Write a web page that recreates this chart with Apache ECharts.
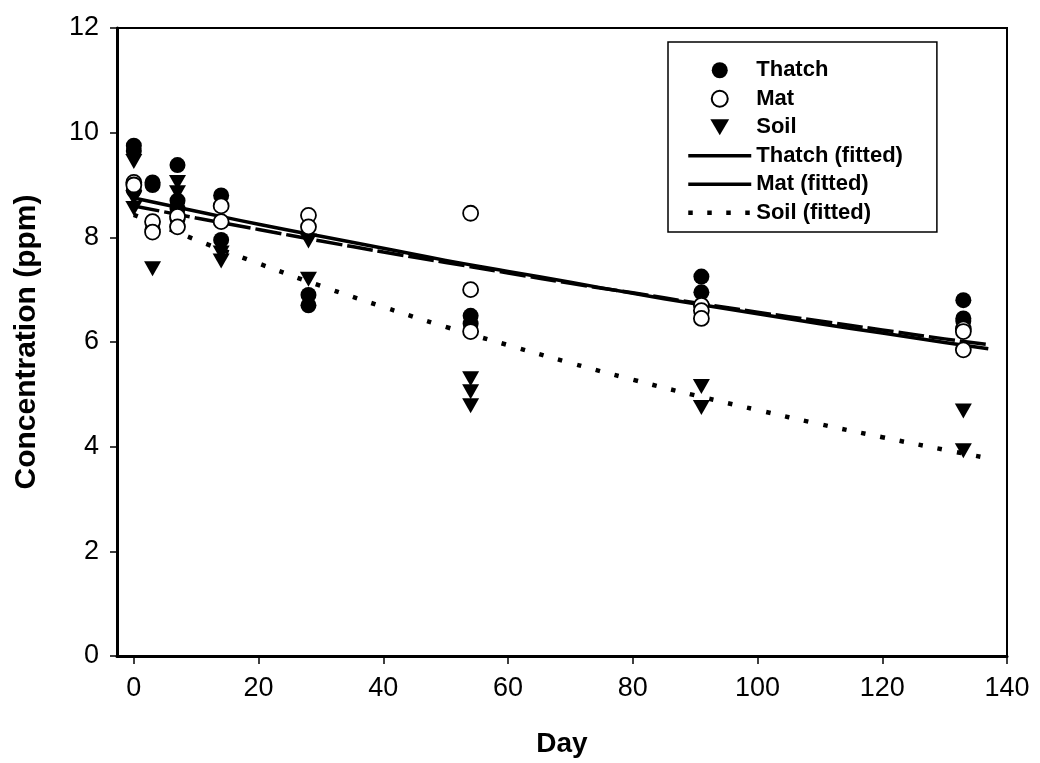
<!DOCTYPE html>
<html>
<head>
<meta charset="utf-8">
<script src="https://cdn.jsdelivr.net/npm/echarts@6/dist/echarts.min.js"></script>
<style>
  html, body { margin: 0; background: #fff; }
  #chart { width: 1040px; height: 763px; }
</style>
</head>
<body>
<div id="chart"></div>
<script>
/* ─── data ─── */
const xTicks = [0, 20, 40, 60, 80, 100, 120, 140];

// [day, ppm]
const thatchPts = [
  [0, 9.75], [0, 9.65], [0, 8.9],
  [3, 9.05], [3, 9.0], [3, 8.15],
  [7, 9.38], [7, 8.7], [7, 8.55], [7, 8.35],
  [14, 8.8], [14, 7.95],
  [28, 6.9], [28, 6.7],
  [54, 6.5], [54, 6.35],
  [91, 7.25], [91, 6.95], [91, 6.7],
  [133, 6.8], [133, 6.45], [133, 6.4],
];
const matPts = [
  [0, 9.05], [0, 9.0],
  [3, 8.3], [3, 8.1],
  [7, 8.4], [7, 8.2],
  [14, 8.6], [14, 8.3],
  [28, 8.42], [28, 8.2],
  [54, 8.46], [54, 7.0], [54, 6.2],
  [91, 6.7], [91, 6.6], [91, 6.45],
  [133, 6.25], [133, 6.2], [133, 5.85],
];
const soilPts = [
  [0, 9.45], [0, 8.75], [0, 8.55],
  [3, 7.4],
  [7, 9.05], [7, 8.85],
  [14, 7.7], [14, 7.55],
  [28, 7.93], [28, 7.2],
  [54, 5.3], [54, 5.05], [54, 4.78],
  [91, 5.15], [91, 4.75],
  [133, 4.68], [133, 3.92],
];

// fitted curves, read at these days
const fitDays   = [0, 10, 20, 30, 40, 50, 60, 70, 80, 90, 100, 110, 120, 130, 137];
const thatchFit = [8.60, 8.37, 8.15, 7.93, 7.72, 7.52, 7.32, 7.12, 6.94, 6.75, 6.57, 6.40, 6.23, 6.06, 5.95];
const matFit    = [8.75, 8.50, 8.25, 8.02, 7.79, 7.56, 7.35, 7.14, 6.93, 6.73, 6.54, 6.35, 6.17, 5.99, 5.87];
const soilFit   = [8.43, 7.95, 7.50, 7.07, 6.67, 6.29, 5.94, 5.60, 5.28, 4.98, 4.70, 4.43, 4.18, 3.94, 3.78];

/* ─── chart ─── */
const FONT = "'Liberation Sans', Arial, sans-serif";
const DOWN_TRI = "path://M0,0L20,0L10,17Z";
const pair = (ys) => fitDays.map((d, i) => [d, ys[i]]);
const HIDE_DOT = { opacity: 0 }; // line legend icons: no symbol in the middle

const chart = echarts.init(document.getElementById("chart"), null, { renderer: "canvas" });

chart.setOption({
  animation: false,
  backgroundColor: "#fff",
  textStyle: { fontFamily: FONT, color: "#000" },
  grid: {
    left: 117, right: 33, top: 28, bottom: 105,
    show: true, borderColor: "#000", borderWidth: 2,
  },
  legend: {
    orient: "vertical",
    left: 668, top: 42,
    padding: [17, 34, 8, 18],
    borderColor: "#000", borderWidth: 1.5,
    backgroundColor: "#fff",
    itemWidth: 63, itemHeight: 16, itemGap: 6,
    textStyle: { fontFamily: FONT, fontWeight: "bold", fontSize: 22, color: "#000", lineHeight: 22.5 },
    data: [
      "Thatch", "Mat", "Soil",
      { name: "Thatch (fitted)", itemStyle: HIDE_DOT, lineStyle: { width: 3.5, type: "solid" } },
      { name: "Mat (fitted)", itemStyle: HIDE_DOT, lineStyle: { width: 3.5 } },
      { name: "Soil (fitted)", itemStyle: HIDE_DOT, lineStyle: { width: 4.5, type: [4.5, 14.5] } },
    ],
  },
  xAxis: {
    type: "value", min: -2.7, max: 140,
    name: "Day", nameLocation: "middle", nameGap: 74,
    nameTextStyle: { fontFamily: FONT, fontWeight: "bold", fontSize: 28, color: "#000" },
    axisLine: { show: true, onZero: false, lineStyle: { color: "#000", width: 3 } },
    axisTick: { show: true, length: 8, customValues: xTicks, lineStyle: { color: "#000", width: 1.5 } },
    axisLabel: { customValues: xTicks, margin: 19, fontSize: 27, color: "#000" },
    splitLine: { show: false },
  },
  yAxis: {
    type: "value", min: 0, max: 12, interval: 2,
    name: "Concentration (ppm)", nameLocation: "middle", nameGap: 75,
    nameTextStyle: { fontFamily: FONT, fontWeight: "bold", fontSize: 30, color: "#000" },
    axisLine: { show: true, onZero: false, lineStyle: { color: "#000", width: 3 } },
    axisTick: { show: true, length: 7, lineStyle: { color: "#000", width: 1.5 } },
    axisLabel: { margin: 18, fontSize: 27, color: "#000" },
    splitLine: { show: false },
  },
  series: [
    {
      name: "Thatch (fitted)", type: "line", data: pair(thatchFit),
      smooth: true, symbol: "none", z: 2,
      itemStyle: { color: "#000" },
      lineStyle: { color: "#000", width: 3.5, type: [26, 5] },
    },
    {
      name: "Mat (fitted)", type: "line", data: pair(matFit),
      smooth: true, symbol: "none", z: 2,
      itemStyle: { color: "#000" },
      lineStyle: { color: "#000", width: 3.5 },
    },
    {
      name: "Soil (fitted)", type: "line", data: pair(soilFit),
      smooth: true, symbol: "none", z: 2,
      itemStyle: { color: "#000" },
      lineStyle: { color: "#000", width: 4.5, type: [4.5, 15], cap: "butt" },
    },
    {
      name: "Thatch", type: "scatter", data: thatchPts, z: 3,
      symbol: "circle", symbolSize: 16,
      itemStyle: { color: "#000", opacity: 1 },
    },
    {
      name: "Mat", type: "scatter", data: matPts, z: 4,
      symbol: "circle", symbolSize: 15,
      itemStyle: { color: "#fff", borderColor: "#000", borderWidth: 1.8, opacity: 1 },
    },
    {
      name: "Soil", type: "scatter", data: soilPts, z: 3,
      symbol: DOWN_TRI, symbolSize: [17, 15],
      itemStyle: { color: "#000", opacity: 1 },
    },
  ],
});
</script>
</body>
</html>
